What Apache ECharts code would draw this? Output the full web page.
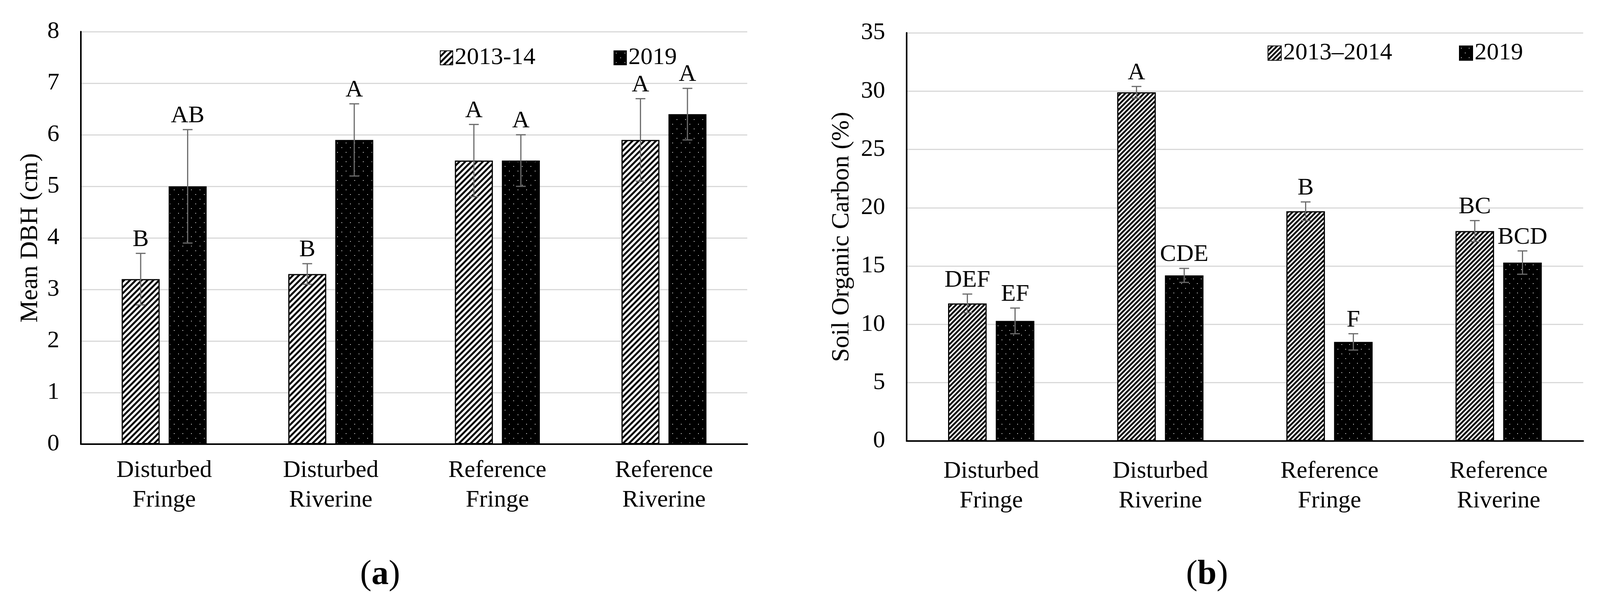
<!DOCTYPE html>
<html>
<head>
<meta charset="utf-8">
<script src="https://cdn.jsdelivr.net/npm/echarts@6/dist/echarts.min.js"></script>
<style>
html,body{margin:0;padding:0;background:#fff;}
#c{width:4103px;height:1536px;}
</style>
</head>
<body>
<div id="c"></div>
<script>
// ---------- DATA ----------
const categories = ['Disturbed\nFringe', 'Disturbed\nRiverine', 'Reference\nFringe', 'Reference\nRiverine'];

// (a) Mean DBH (cm)
const dbh2013 = [3.2, 3.3, 5.5, 5.9];
const dbh2013Err = [0.5, 0.2, 0.7, 0.8];
const dbh2013Letters = ['B', 'B', 'A', 'A'];
const dbh2019 = [5.0, 5.9, 5.5, 6.4];
const dbh2019Err = [1.1, 0.7, 0.5, 0.5];
const dbh2019Letters = ['AB', 'A', 'A', 'A'];

// (b) Soil Organic Carbon (%)
const soc2013 = [11.8, 29.9, 19.7, 18.0];
const soc2013Err = [0.8, 0.5, 0.8, 0.9];
const soc2013Letters = ['DEF', 'A', 'B', 'BC'];
const soc2019 = [10.3, 14.2, 8.5, 15.3];
const soc2019Err = [1.1, 0.6, 0.7, 1.0];
const soc2019Letters = ['EF', 'CDE', 'F', 'BCD'];

const legendA = ['2013-14', '2019'];
const legendB = ['2013\u20132014', '2019'];
const yTicksA = {min: 0, max: 8, interval: 1};
const yTicksB = {min: 0, max: 35, interval: 5};

// ---------- STYLE ----------
const FONT = '"Liberation Serif", "Times New Roman", serif';
const FS = 62;
const BAR_W = 0.228;   // fraction of band
const BAR_GAP = 0.237; // fraction of bar width
const ERR_COLOR = '#6b6b6b';

function hatch(period, lw) {
  const c = document.createElement('canvas');
  c.width = period; c.height = period;
  const g = c.getContext('2d');
  g.fillStyle = '#fff'; g.fillRect(0, 0, period, period);
  g.strokeStyle = '#000'; g.lineWidth = lw; g.lineCap = 'square';
  for (let k = -1; k <= 1; k++) {
    g.beginPath();
    g.moveTo(k * period, period);
    g.lineTo(k * period + period, 0);
    g.stroke();
  }
  return c;
}
function dots(w, h) {
  const c = document.createElement('canvas');
  c.width = w; c.height = h;
  const g = c.getContext('2d');
  g.fillStyle = '#000'; g.fillRect(0, 0, w, h);
  g.fillStyle = '#d8d8d8';
  g.fillRect(Math.round(w * 0.25) - 1, Math.round(h * 0.25) - 1, 2, 2);
  g.fillRect(Math.round(w * 0.75) - 1, Math.round(h * 0.75) - 1, 2, 2);
  return c;
}
const hatchA = {image: hatch(15, 5), repeat: 'repeat'};
const hatchB = {image: hatch(12, 4.5), repeat: 'repeat'};
const dotA = {image: dots(22, 24), repeat: 'repeat'};
const dotB = {image: dots(20, 24), repeat: 'repeat'};

function barSeries(name, data, idx, fill) {
  return {
    type: 'bar', name: name, data: data,
    xAxisIndex: idx, yAxisIndex: idx,
    barWidth: (BAR_W * 100) + '%', barGap: (BAR_GAP * 100) + '%',
    itemStyle: {color: fill, borderColor: '#000', borderWidth: 3},
    emphasis: {disabled: true},
    z: 2
  };
}

function errSeries(values, errs, letters, idx, sign) {
  return {
    type: 'custom', xAxisIndex: idx, yAxisIndex: idx, z: 10,
    silent: true,
    encode: {x: 0, y: 1},
    data: values.map((v, i) => [i, v, errs[i]]),
    renderItem: function (params, api) {
      const i = api.value(0), v = api.value(1), e = api.value(2);
      const band = api.size([1, 0])[0];
      const off = sign * band * BAR_W * (1 + BAR_GAP) / 2;
      const x = api.coord([i, v])[0] + off;
      const yt = api.coord([i, v + e])[1];
      const yb = api.coord([i, v - e])[1];
      const cap = 12.5;
      const ls = {stroke: ERR_COLOR, lineWidth: 3};
      return {
        type: 'group',
        children: [
          {type: 'line', shape: {x1: x, y1: yt, x2: x, y2: yb}, style: ls},
          {type: 'line', shape: {x1: x - cap, y1: yt, x2: x + cap, y2: yt}, style: ls},
          {type: 'line', shape: {x1: x - cap, y1: yb, x2: x + cap, y2: yb}, style: ls},
          {type: 'text', x: x, y: yt - 4, style: {
            text: letters[params.dataIndex], fill: '#000',
            font: FS + 'px ' + FONT, align: 'center', verticalAlign: 'bottom'}}
        ]
      };
    }
  };
}

function xAxis(idx, margin) {
  return {
    type: 'category', gridIndex: idx, data: categories,
    axisLine: {show: true, lineStyle: {color: '#000', width: 4}},
    axisTick: {show: false},
    axisLabel: {fontFamily: FONT, fontSize: FS, color: '#000', lineHeight: 76, margin: margin, interval: 0}
  };
}
function yAxis(idx, ticks, name, gap) {
  return {
    type: 'value', gridIndex: idx, min: ticks.min, max: ticks.max, interval: ticks.interval,
    name: name, nameLocation: 'middle', nameGap: gap,
    nameTextStyle: {fontFamily: FONT, fontSize: 64, color: '#000'},
    axisLine: {show: true, lineStyle: {color: '#000', width: 4}},
    axisTick: {show: false},
    axisLabel: {fontFamily: FONT, fontSize: FS, color: '#000', margin: 55},
    splitLine: {show: true, lineStyle: {color: '#d9d9d9', width: 3}}
  };
}

const chart = echarts.init(document.getElementById('c'), null, {renderer: 'canvas'});
chart.setOption({
  animation: false,
  backgroundColor: '#fff',
  grid: [
    {left: 207, top: 81, width: 1706, height: 1056},
    {left: 2321, top: 84, width: 1732, height: 1045}
  ],
  legend: [
    {data: legendA, left: 1126, top: 117, itemGap: 200, itemWidth: 32, itemHeight: 36, padding: 0,
     selectedMode: false, icon: 'rect',
     textStyle: {fontFamily: FONT, fontSize: FS, color: '#000'}},
    {data: [legendB[0], {name: legendB[1], itemStyle: {color: dotB, borderColor: '#000', borderWidth: 2}}],
     left: 3245, top: 105, itemGap: 171, itemWidth: 34, itemHeight: 37, padding: 0,
     selectedMode: false, icon: 'rect',
     textStyle: {fontFamily: FONT, fontSize: FS, color: '#000'}}
  ],
  xAxis: [xAxis(0, 30), xAxis(1, 40)],
  yAxis: [yAxis(0, yTicksA, 'Mean DBH (cm)', 97), yAxis(1, yTicksB, 'Soil Organic Carbon (%)', 134)],
  graphic: [
    {type: 'text', x: 973, y: 1472, style: {text: '({b|a})', fill: '#000', font: '88px ' + FONT,
      align: 'center', verticalAlign: 'middle', rich: {b: {fontWeight: 'bold', fontSize: 88, fontFamily: FONT}}}},
    {type: 'text', x: 3090, y: 1472, style: {text: '({b|b})', fill: '#000', font: '88px ' + FONT,
      align: 'center', verticalAlign: 'middle', rich: {b: {fontWeight: 'bold', fontSize: 88, fontFamily: FONT}}}}
  ],
  series: [
    barSeries(legendA[0], dbh2013, 0, hatchA),
    barSeries(legendA[1], dbh2019, 0, dotA),
    barSeries(legendB[0], soc2013, 1, hatchB),
    barSeries(legendB[1], soc2019, 1, dotB),
    errSeries(dbh2013, dbh2013Err, dbh2013Letters, 0, -1),
    errSeries(dbh2019, dbh2019Err, dbh2019Letters, 0, 1),
    errSeries(soc2013, soc2013Err, soc2013Letters, 1, -1),
    errSeries(soc2019, soc2019Err, soc2019Letters, 1, 1)
  ]
});
</script>
</body>
</html>
